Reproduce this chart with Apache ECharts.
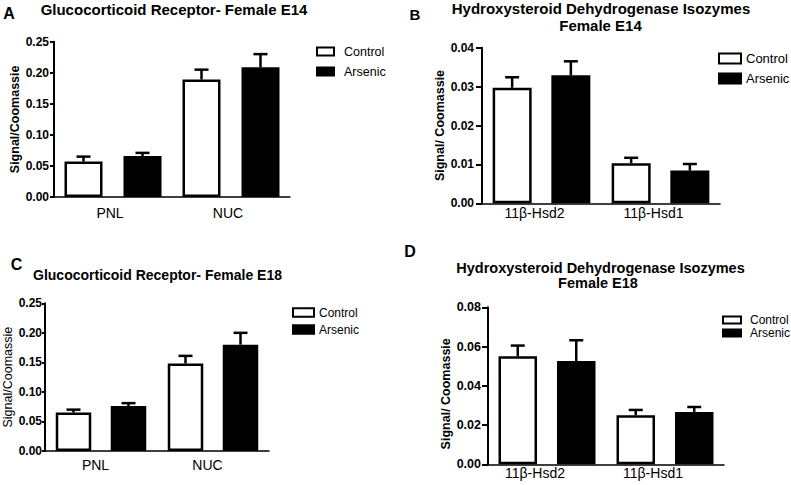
<!DOCTYPE html>
<html><head><meta charset="utf-8">
<script src="https://cdn.jsdelivr.net/npm/echarts@6/dist/echarts.min.js"></script>
<style>html,body{margin:0;padding:0;background:#fff}#c{width:791px;height:485px}</style>
</head><body><div id="c"></div>
<script>
// ---------- data ----------
const seriesNames = ['Control', 'Arsenic'];
const categoriesGR = ['PNL', 'NUC'];
const categoriesHSD = ['11β-Hsd2', '11β-Hsd1'];

// Panel A: Glucocorticoid Receptor - Female E14
const aControl = [0.057, 0.189];
const aControlSem = [0.008, 0.016];
const aArsenic = [0.066, 0.209];
const aArsenicSem = [0.005, 0.021];
const aTicks = [0.00, 0.05, 0.10, 0.15, 0.20, 0.25];

// Panel B: HSD isozymes - Female E14
const bControl = [0.0297, 0.0103];
const bControlSem = [0.0027, 0.0014];
const bArsenic = [0.0329, 0.0084];
const bArsenicSem = [0.0036, 0.0017];
const bTicks = [0.00, 0.01, 0.02, 0.03, 0.04];

// Panel C: Glucocorticoid Receptor - Female E18
const cControl = [0.065, 0.148];
const cControlSem = [0.005, 0.013];
const cArsenic = [0.076, 0.180];
const cArsenicSem = [0.005, 0.020];
const cTicks = [0.00, 0.05, 0.10, 0.15, 0.20, 0.25];

// Panel D: HSD isozymes - Female E18
const dControl = [0.055, 0.025];
const dControlSem = [0.0055, 0.0027];
const dArsenic = [0.0526, 0.0267];
const dArsenicSem = [0.0106, 0.0025];
const dTicks = [0.00, 0.02, 0.04, 0.06, 0.08];

// ---------- layout ----------
const FONT = '"Liberation Sans", Arial, sans-serif';
const NARROW = '"Liberation Sans Narrow", "Liberation Sans", Arial, sans-serif';

const panels = [
  { cats: categoriesGR, ctrl: aControl, ctrlSem: aControlSem, ars: aArsenic, arsSem: aArsenicSem, ticks: aTicks,
    grid: { left: 54, top: 41.7, width: 236, height: 155.3 },
    barW: 38, dist: 59, yName: 'Signal/Coomassie', yNameBold: true, nameGap: 31, namePad: [0, 0, 0, 0],
    tickLen: 4, labMargin: 5, yLabSize: 12, catFont: FONT, catSize: 14, catMargin: 9, catPad: [0, 6, 0, 0],
    legend: { left: 316, top: 45, itemWidth: 17, itemHeight: 8, itemGap: 7, size: 12.5, font: FONT, pad: 5 } },
  { cats: categoriesHSD, ctrl: bControl, ctrlSem: bControlSem, ars: bArsenic, arsSem: bArsenicSem, ticks: bTicks,
    grid: { left: 482, top: 47.7, width: 238, height: 155.6 },
    barW: 39, dist: 58.7, yName: 'Signal/ Coomassie', yNameBold: true, nameGap: 33, namePad: [0, 0, 0, 0],
    tickLen: 6, labMargin: 8, yLabSize: 12, catFont: NARROW, catSize: 14, catMargin: 3, catPad: [0, 14, 0, 0],
    legend: { left: 718, top: 52, itemWidth: 22, itemHeight: 10, itemGap: 7, size: 13, font: FONT, pad: 0 } },
  { cats: categoriesGR, ctrl: cControl, ctrlSem: cControlSem, ars: cArsenic, arsSem: cArsenicSem, ticks: cTicks,
    grid: { left: 45, top: 303.3, width: 224, height: 147.7 },
    barW: 35.5, dist: 55, yName: 'Signal/Coomassie', yNameBold: false, nameGap: 31, namePad: [0, 0, 0, 0],
    tickLen: 3, labMargin: 3, yLabSize: 12, catFont: FONT, catSize: 14, catMargin: 7, catPad: [0, 11, 0, 0],
    legend: { left: 292, top: 306.5, itemWidth: 21, itemHeight: 8.5, itemGap: 5, size: 12, font: FONT, pad: 0 } },
  { cats: categoriesHSD, ctrl: dControl, ctrlSem: dControlSem, ars: dArsenic, arsSem: dArsenicSem, ticks: dTicks,
    grid: { left: 488, top: 307.3, width: 236, height: 157 },
    barW: 38.5, dist: 58.5, yName: 'Signal/ Coomassie', yNameBold: true, nameGap: 36, namePad: [0, 16, 0, 0],
    tickLen: 6, labMargin: 7, yLabSize: 12.5, catFont: NARROW, catSize: 14, catMargin: 2, catPad: [0, 24, 0, 0],
    legend: { left: 722, top: 314, itemWidth: 18, itemHeight: 7, itemGap: 1, size: 12, font: NARROW, pad: 4 } }
];

function errRender(offset) {
  return function (params, api) {
    const idx = api.value(0), v = api.value(1), s = api.value(2);
    const p0 = api.coord([idx, v]);
    const p1 = api.coord([idx, v + s]);
    const x = p0[0] + offset;
    const cap = 14;
    return { type: 'group', children: [
      { type: 'line', shape: { x1: x, y1: p0[1], x2: x, y2: p1[1] }, style: { stroke: '#000', lineWidth: 2.5 } },
      { type: 'line', shape: { x1: x - cap / 2, y1: p1[1], x2: x + cap / 2, y2: p1[1] }, style: { stroke: '#000', lineWidth: 2.5 } }
    ] };
  };
}

const grids = [], xAxes = [], yAxes = [], series = [], legends = [];
panels.forEach((p, i) => {
  grids.push(Object.assign({ outerBoundsMode: 'none', containLabel: false }, p.grid));
  xAxes.push({
    gridIndex: i, type: 'category', data: p.cats,
    axisLine: { show: true, lineStyle: { color: '#000', width: 1.5 } },
    axisTick: { show: false },
    axisLabel: { color: '#000', fontFamily: p.catFont, fontSize: p.catSize, margin: p.catMargin, padding: p.catPad }
  });
  const ticks = p.ticks;
  yAxes.push({
    gridIndex: i, type: 'value', min: ticks[0], max: ticks[ticks.length - 1], interval: ticks[1] - ticks[0],
    axisLine: { show: true, lineStyle: { color: '#000', width: 2 } },
    axisTick: { show: true, length: p.tickLen, lineStyle: { color: '#000', width: 2 } },
    splitLine: { show: false },
    axisLabel: { color: '#000', fontFamily: FONT, fontWeight: 'bold', fontSize: p.yLabSize, margin: p.labMargin,
      formatter: v => v.toFixed(2) },
    name: p.yName, nameLocation: 'middle', nameGap: p.nameGap,
    nameTextStyle: { color: '#000', fontFamily: FONT, fontWeight: p.yNameBold ? 'bold' : 'normal', fontSize: 12.5, padding: p.namePad }
  });
  const gap = ((p.dist - p.barW) / p.barW * 100).toFixed(1) + '%';
  series.push({
    name: seriesNames[0], type: 'bar', xAxisIndex: i, yAxisIndex: i, data: p.ctrl,
    barWidth: p.barW, barGap: gap,
    itemStyle: { color: '#fff', borderColor: '#000', borderWidth: 2.5 }, emphasis: { disabled: true }
  });
  series.push({
    name: seriesNames[1], type: 'bar', xAxisIndex: i, yAxisIndex: i, data: p.ars,
    barWidth: p.barW, barGap: gap,
    itemStyle: { color: '#000', borderColor: '#000', borderWidth: 2.5 }, emphasis: { disabled: true }
  });
  series.push({
    name: 'err-c-' + i, type: 'custom', xAxisIndex: i, yAxisIndex: i, z: 5,
    renderItem: errRender(-p.dist / 2), encode: { x: 0, y: 1 },
    data: p.ctrl.map((v, k) => [k, v, p.ctrlSem[k]])
  });
  series.push({
    name: 'err-a-' + i, type: 'custom', xAxisIndex: i, yAxisIndex: i, z: 5,
    renderItem: errRender(p.dist / 2), encode: { x: 0, y: 1 },
    data: p.ars.map((v, k) => [k, v, p.arsSem[k]])
  });
  const L = p.legend;
  legends.push({
    data: seriesNames, orient: 'vertical', left: L.left, top: L.top, padding: 0,
    itemWidth: L.itemWidth, itemHeight: L.itemHeight, itemGap: L.itemGap, icon: 'rect', selectedMode: false,
    itemStyle: { borderWidth: 2, borderColor: '#000' },
    textStyle: { color: '#000', fontFamily: L.font, fontSize: L.size, lineHeight: 12, padding: [0, 0, 0, L.pad] }
  });
});

function txt(x, y, text, size, weight, family) {
  return { type: 'text', x: x, y: y, silent: true,
    style: { text: text, fontSize: size, fontWeight: weight || 'bold', fontFamily: family || FONT, fill: '#000',
      align: 'center', verticalAlign: 'middle' } };
}

const graphics = [
  txt(9, 13, 'A', 16),
  txt(174, 9.5, 'Glucocorticoid Receptor- Female E14', 15),
  txt(415, 14, 'B', 15),
  txt(601, 8, 'Hydroxysteroid Dehydrogenase Isozymes', 15),
  txt(600.5, 25, 'Female E14', 15),
  txt(16.5, 264.5, 'C', 16),
  txt(157.5, 274.5, 'Glucocorticoid Receptor- Female E18', 14),
  txt(410, 251.5, 'D', 16),
  txt(600.5, 268, 'Hydroxysteroid Dehydrogenase Isozymes', 14.5),
  txt(598, 283, 'Female E18', 14.5)
];

const chart = echarts.init(document.getElementById('c'), null, { renderer: 'svg', width: 791, height: 485 });
chart.setOption({
  animation: false,
  backgroundColor: '#fff',
  grid: grids, xAxis: xAxes, yAxis: yAxes, series: series, legend: legends,
  graphic: graphics
});
</script></body></html>
